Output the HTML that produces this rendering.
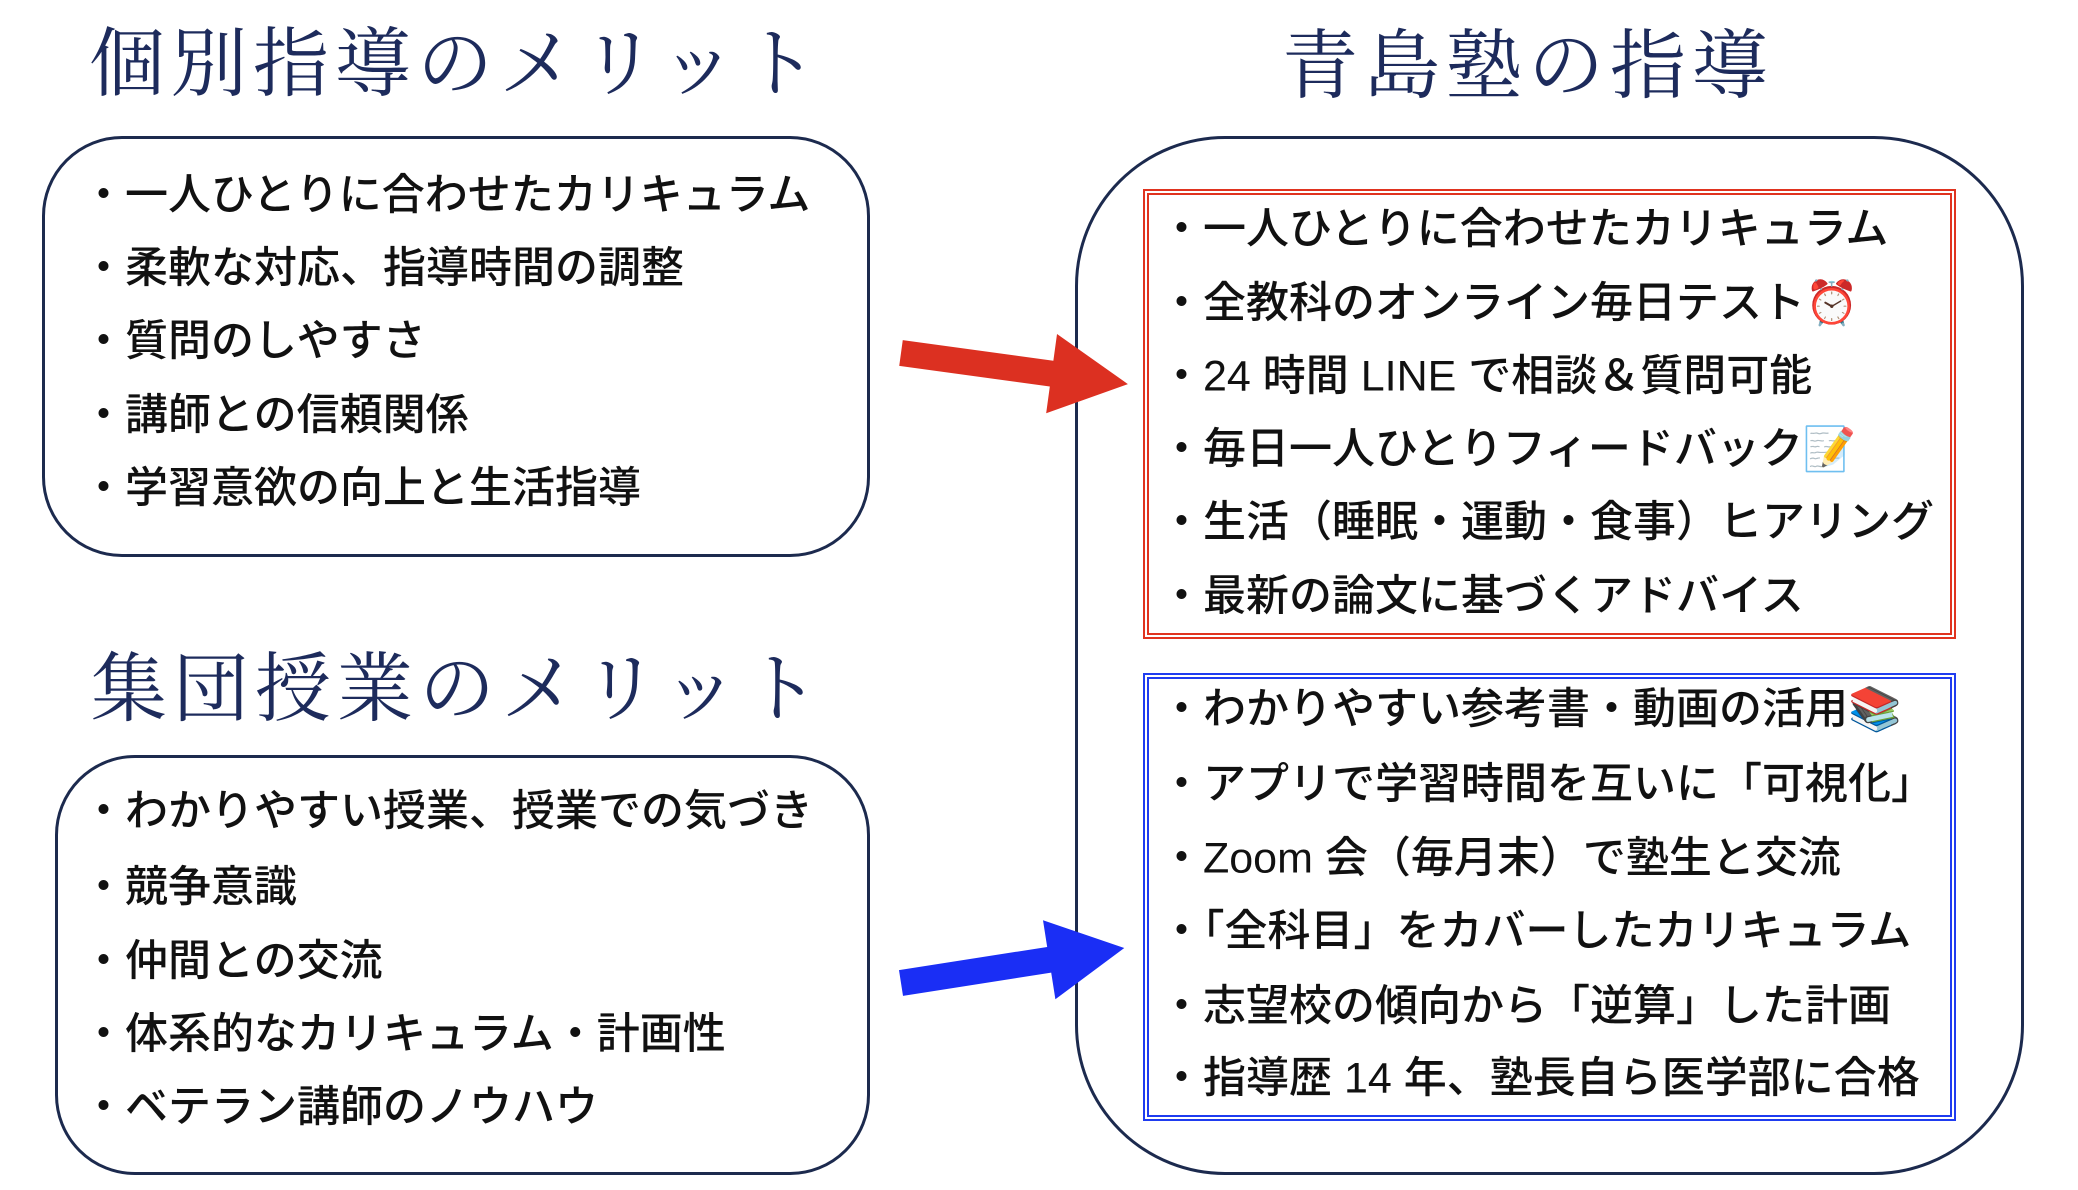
<!DOCTYPE html>
<html><head><meta charset="utf-8"><style>
body{margin:0;width:2078px;height:1190px;background:#fff;position:relative;overflow:hidden;font-family:"Liberation Sans","Noto Sans CJK JP",sans-serif;color:#111}
.t{position:absolute;font-family:"Liberation Serif","Noto Serif CJK JP",serif;color:#1d2b5c;font-size:76px;line-height:1;white-space:nowrap}
.box{position:absolute;border:3px solid #1c2a4e;box-sizing:border-box}
.it{position:absolute;font-size:43px;line-height:1;white-space:nowrap;transform:translateY(-50%);font-weight:500}
.db{position:absolute;box-sizing:border-box;border:6px double}
</style></head><body>
<div class="t" style="left:89px;top:27px;letter-spacing:6px">個別指導のメリット</div>
<div class="t" style="left:91px;top:652px;letter-spacing:6px">集団授業のメリット</div>
<div class="t" style="left:1282px;top:29px;letter-spacing:6px">青島塾の指導</div>

<div class="box" style="left:42px;top:136px;width:828px;height:421px;border-radius:80px"></div>
<div class="it" style="left:82px;top:196px">・一人ひとりに合わせたカリキュラム</div>
<div class="it" style="left:82px;top:269px">・柔軟な対応、指導時間の調整</div>
<div class="it" style="left:82px;top:342px">・質問のしやすさ</div>
<div class="it" style="left:82px;top:416px">・講師との信頼関係</div>
<div class="it" style="left:82px;top:489px">・学習意欲の向上と生活指導</div>

<div class="box" style="left:55px;top:755px;width:815px;height:420px;border-radius:80px"></div>
<div class="it" style="left:82px;top:812px">・わかりやすい授業、授業での気づき</div>
<div class="it" style="left:82px;top:888px">・競争意識</div>
<div class="it" style="left:82px;top:962px">・仲間との交流</div>
<div class="it" style="left:82px;top:1035px">・体系的なカリキュラム・計画性</div>
<div class="it" style="left:82px;top:1108px">・ベテラン講師のノウハウ</div>

<div class="box" style="left:1075px;top:136px;width:949px;height:1039px;border-radius:150px"></div>
<div class="db" style="left:1143px;top:189px;width:813px;height:450px;border-color:#e0331f"></div>
<div class="db" style="left:1143px;top:673px;width:813px;height:448px;border-color:#1f3cf0"></div>

<div class="it" style="left:1160px;top:230px">・一人ひとりに合わせたカリキュラム</div>
<div class="it" style="left:1160px;top:304px">・全教科のオンライン毎日テスト⏰</div>
<div class="it" style="left:1160px;top:377px">・24 時間 LINE で相談＆質問可能</div>
<div class="it" style="left:1160px;top:450px">・毎日一人ひとりフィードバック📝</div>
<div class="it" style="left:1160px;top:523px">・生活（睡眠・運動・食事）ヒアリング</div>
<div class="it" style="left:1160px;top:597px">・最新の論文に基づくアドバイス</div>

<div class="it" style="left:1160px;top:710px">・わかりやすい参考書・動画の活用📚</div>
<div class="it" style="left:1160px;top:785px">・アプリで学習時間を互いに「可視化」</div>
<div class="it" style="left:1160px;top:859px">・Zoom 会（毎月末）で塾生と交流</div>
<div class="it" style="left:1160px;top:932px">・「全科目」をカバーしたカリキュラム</div>
<div class="it" style="left:1160px;top:1007px">・志望校の傾向から「逆算」した計画</div>
<div class="it" style="left:1160px;top:1079px">・指導歴 14 年、塾長自ら医学部に合格</div>

<svg width="2078" height="1190" style="position:absolute;left:0;top:0">
<g transform="translate(901,353) rotate(7.8)"><polygon points="0,-13 152,-13 152,-40 229,0 152,40 152,13 0,13" fill="#dc3021"/></g>
<g transform="translate(901,983) rotate(-8.9)"><polygon points="0,-13 150,-13 150,-40 226,0 150,40 150,13 0,13" fill="#1a2ef5"/></g>
</svg>
</body></html>
